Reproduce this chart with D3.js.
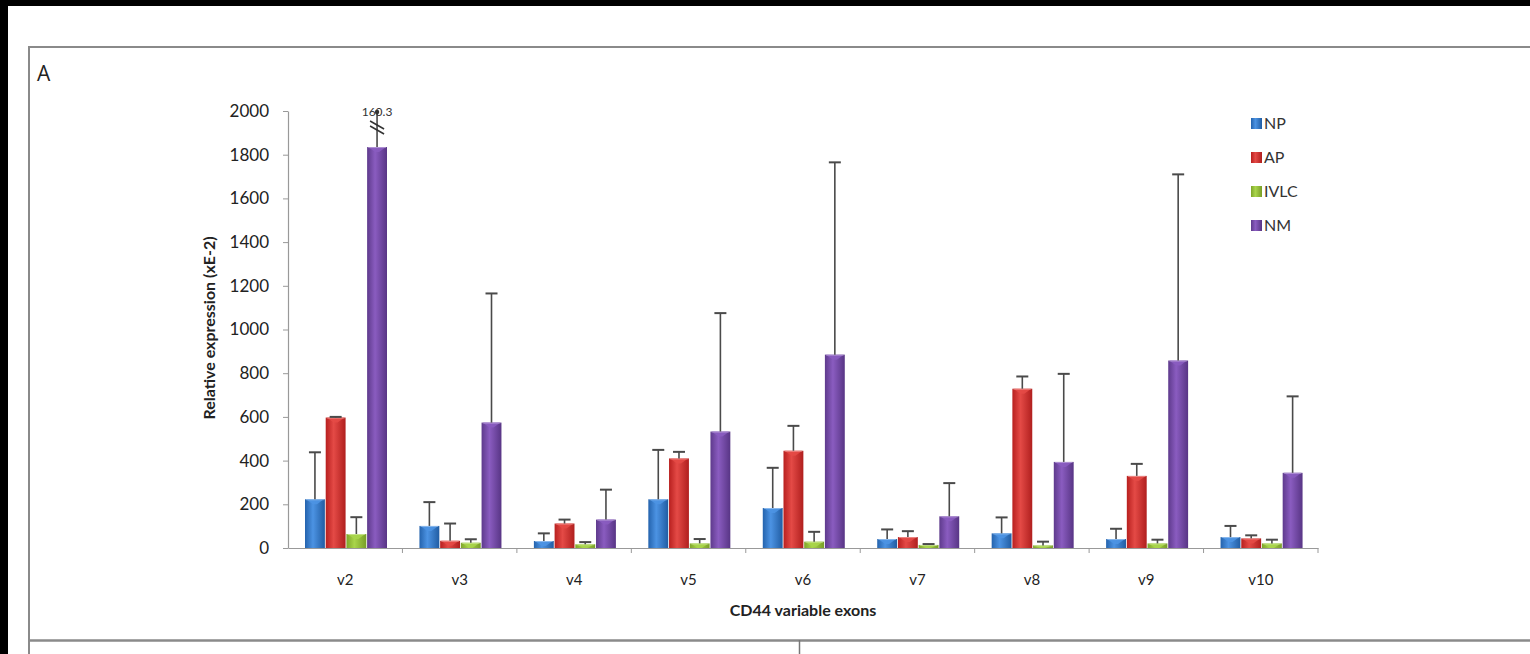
<!DOCTYPE html>
<html>
<head>
<meta charset="utf-8">
<script src="https://cdn.jsdelivr.net/npm/d3@7"></script>
<style>
  html, body { margin: 0; padding: 0; background: #000; }
  svg { display: block; }
</style>
</head>
<body>
<svg id="chart"></svg>
<script>
// data (relative expression, xE-2)
var exons = ["v2", "v3", "v4", "v5", "v6", "v7", "v8", "v9", "v10"];
var groups = ["NP", "AP", "IVLC", "NM"];
var npMean = [223, 101, 32, 223, 183, 41, 67, 41, 50];
var npErr = [215, 109, 35, 226, 184, 44, 73, 47, 51];
var apMean = [597, 33, 112, 410, 445, 50, 729, 330, 44];
var apErr = [3, 79, 18, 30, 114, 27, 56, 55, 14];
var ivlcMean = [64, 24, 17, 21, 29, 14, 12, 21, 21];
var ivlcErr = [77, 16, 10, 20, 45, 4, 17, 17, 17];
var nmMean = [1835, 574, 130, 533, 885, 145, 394, 858, 344];
var nmErr = [165, 591, 137, 542, 880, 152, 403, 852, 350];
var yTicks = [0, 200, 400, 600, 800, 1000, 1200, 1400, 1600, 1800, 2000];
var breakLabel = { exon: "v2", group: "NM", text: "160.3" };

var colors = {
  NP:   ["#2463ad", "#4c93e3", "#215da3"],
  AP:   ["#b8201f", "#e44a46", "#b01f1e"],
  IVLC: ["#7ea52a", "#a9d54b", "#789e27"],
  NM:   ["#5e3a8c", "#8a5cc0", "#583585"]
};

var means = { NP: npMean, AP: apMean, IVLC: ivlcMean, NM: nmMean };
var errs = { NP: npErr, AP: apErr, IVLC: ivlcErr, NM: nmErr };

var rows = [];
exons.forEach(function(e, i) {
  groups.forEach(function(g) {
    rows.push({ exon: e, group: g, value: means[g][i], err: errs[g][i] });
  });
});

var W = 1530, H = 654;
var font = "Lato, 'Open Sans', sans-serif";

var svg = d3.select("#chart").attr("width", W).attr("height", H);

// panel
svg.append("rect").attr("x", 8).attr("y", 6).attr("width", W - 8).attr("height", H - 6).attr("fill", "#fff");
svg.append("path")
  .attr("d", "M29,654 V47 H1530")
  .attr("fill", "none").attr("stroke", "#8a8a8a").attr("stroke-width", 2);
svg.append("line").attr("x1", 29).attr("x2", 1530).attr("y1", 640.5).attr("y2", 640.5)
  .attr("stroke", "#8a8a8a").attr("stroke-width", 2.5);
svg.append("line").attr("x1", 799.5).attr("x2", 799.5).attr("y1", 640).attr("y2", 654)
  .attr("stroke", "#777").attr("stroke-width", 1.5);
svg.append("text").attr("x", 37).attr("y", 81).text("A")
  .attr("font-family", "'Open Sans', 'Liberation Sans', sans-serif").attr("font-size", 21).attr("fill", "#222");

// gradients
var defs = svg.append("defs");
groups.forEach(function(g) {
  var lg = defs.append("linearGradient").attr("id", "grad-" + g)
    .attr("x1", "0%").attr("x2", "100%").attr("y1", "0%").attr("y2", "0%");
  lg.append("stop").attr("offset", "0%").attr("stop-color", colors[g][0]);
  lg.append("stop").attr("offset", "40%").attr("stop-color", colors[g][1]);
  lg.append("stop").attr("offset", "100%").attr("stop-color", colors[g][2]);
});

// scales
var x0 = d3.scaleBand().domain(exons).range([288, 1318]);
var x1 = d3.scaleBand().domain(groups).range([17, 99]).paddingInner(0.04);
var y = d3.scaleLinear().domain([0, 2000]).range([548, 111]);

// y axis
var yAxis = svg.append("g")
  .attr("transform", "translate(288,0)")
  .call(d3.axisLeft(y).tickValues(yTicks).tickFormat(d3.format("d"))
    .tickSize(5).tickPadding(14).tickSizeOuter(0));
yAxis.select(".domain").attr("stroke", "#999").attr("stroke-width", 1.2);
yAxis.selectAll(".tick line").attr("stroke", "#999");
yAxis.selectAll(".tick text").attr("font-family", font).attr("font-size", 17).attr("fill", "#222");

// x axis
var xAxis = svg.append("g")
  .attr("transform", "translate(0,548)")
  .call(d3.axisBottom(x0).tickSize(0).tickPadding(26).tickSizeOuter(0));
xAxis.select(".domain").attr("stroke", "#999").attr("stroke-width", 1.2);
xAxis.selectAll(".tick text").attr("font-family", font).attr("font-size", 15).attr("fill", "#222");
xAxis.selectAll(".tick").append("line")
  .attr("x1", x0.bandwidth() / 2).attr("x2", x0.bandwidth() / 2)
  .attr("y1", 0).attr("y2", 5).attr("stroke", "#999");

// bars
var bars = svg.append("g").selectAll("g.bar")
  .data(rows).join("g").attr("class", "bar")
  .attr("transform", function(d) { return "translate(" + (x0(d.exon) + x1(d.group)) + ",0)"; });

bars.append("rect")
  .attr("x", 0).attr("width", x1.bandwidth())
  .attr("y", function(d) { return y(d.value); })
  .attr("height", function(d) { return y(0) - y(d.value); })
  .attr("fill", function(d) { return "url(#grad-" + d.group + ")"; });

// light bevel at the bar top
bars.append("path")
  .attr("d", function(d) {
    var t = y(d.value), w = x1.bandwidth();
    var h = Math.min(5, y(0) - t);
    return "M1," + t + " H" + (w - 1) + " L" + (w / 2 + 2) + "," + (t + h) + " H" + (w / 2 - 2) + " Z";
  })
  .attr("fill", function(d) { return colors[d.group][1]; })
  .attr("opacity", 0.9);
bars.append("line")
  .attr("x1", 1).attr("x2", function() { return x1.bandwidth() - 1; })
  .attr("y1", function(d) { return y(d.value) + 0.5; })
  .attr("y2", function(d) { return y(d.value) + 0.5; })
  .attr("stroke", "#fff").attr("stroke-opacity", 0.35);

// error bars (upper whiskers)
var errColor = "#4a4a4a";
bars.append("line")
  .attr("x1", x1.bandwidth() / 2).attr("x2", x1.bandwidth() / 2)
  .attr("y1", function(d) { return y(d.value); })
  .attr("y2", function(d) { return y(d.value + d.err); })
  .attr("stroke", errColor).attr("stroke-width", 1.6);
bars.filter(function(d) { return !(d.exon === breakLabel.exon && d.group === breakLabel.group); })
  .append("line")
  .attr("x1", x1.bandwidth() / 2 - 6).attr("x2", x1.bandwidth() / 2 + 6)
  .attr("y1", function(d) { return y(d.value + d.err); })
  .attr("y2", function(d) { return y(d.value + d.err); })
  .attr("stroke", errColor).attr("stroke-width", 2);

// broken whisker with label
var bk = rows.find(function(d) { return d.exon === breakLabel.exon && d.group === breakLabel.group; });
var bx = x0(bk.exon) + x1(bk.group) + x1.bandwidth() / 2;
var by = y(bk.value + bk.err);
var brk = svg.append("g");
[-2, 3].forEach(function(off) {
  brk.append("line")
    .attr("x1", bx - 7).attr("x2", bx + 7)
    .attr("y1", by + 12 + off).attr("y2", by + 20 + off)
    .attr("stroke", "#333").attr("stroke-width", 1.6);
});
brk.append("circle").attr("cx", bx).attr("cy", by + 1).attr("r", 2.2).attr("fill", "#333");
brk.append("text").attr("x", bx).attr("y", by + 5).attr("text-anchor", "middle")
  .attr("font-family", font).attr("font-size", 12).attr("fill", "#333")
  .text(breakLabel.text);

// axis titles
svg.append("text")
  .attr("transform", "translate(215,328) rotate(-90)")
  .attr("text-anchor", "middle")
  .attr("font-family", font).attr("font-weight", "bold").attr("font-size", 16).attr("fill", "#222")
  .text("Relative expression (xE-2)");
svg.append("text")
  .attr("x", (288 + 1318) / 2).attr("y", 616)
  .attr("text-anchor", "middle")
  .attr("font-family", font).attr("font-weight", "bold").attr("font-size", 16).attr("fill", "#222")
  .text("CD44 variable exons");

// legend
var legend = svg.append("g").selectAll("g")
  .data(groups).join("g")
  .attr("transform", function(d, i) { return "translate(1251," + (118 + i * 34) + ")"; });
legend.append("rect").attr("width", 11).attr("height", 11)
  .attr("fill", function(d) { return "url(#grad-" + d + ")"; });
legend.append("text").attr("x", 13).attr("y", 11)
  .attr("font-family", font).attr("font-size", 16).attr("fill", "#333")
  .text(function(d) { return d; });
</script>
</body>
</html>
